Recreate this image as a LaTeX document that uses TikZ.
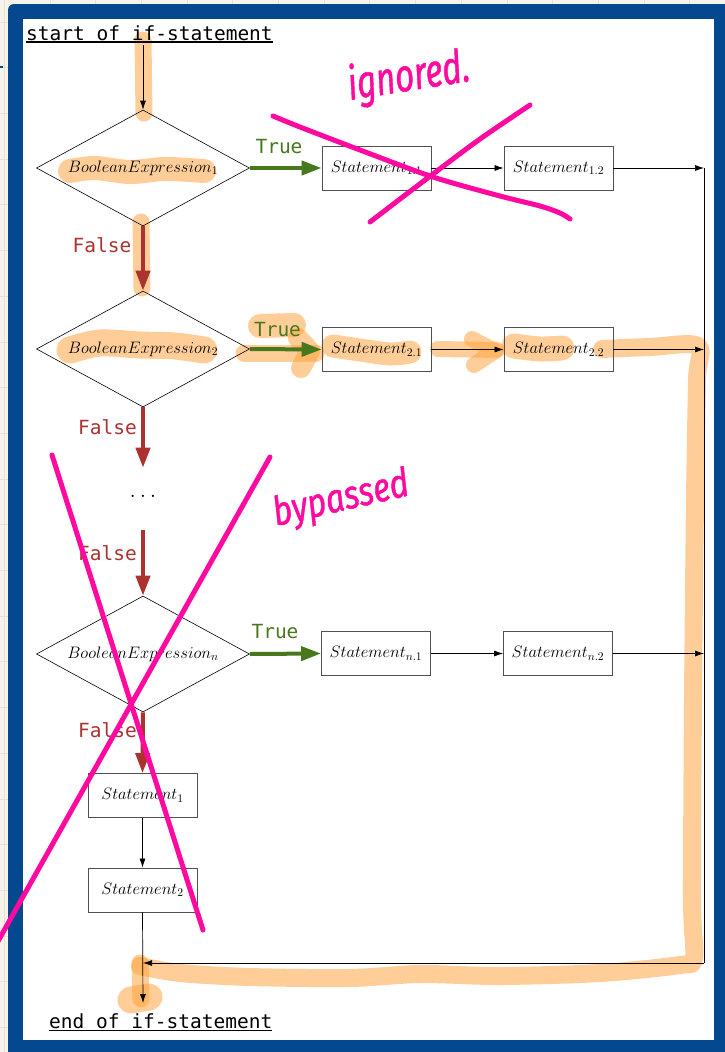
\RequirePackage{fix-cm}
\documentclass[tikz,border=0pt]{standalone}
\usepackage{fontspec}
\usetikzlibrary{shapes.geometric,arrows.meta}
\newfontfamily\monofam{DejaVu Sans Mono}
\newfontfamily\handfam{Fira Sans}[FakeBold=1.2]
\newcommand\stmtsize{\fontsize{16.6}{19}\selectfont}
\newcommand\codesize{\monofam\fontsize{19.5}{23}\selectfont}

\definecolor{framebl}{RGB}{4,72,143}
\definecolor{paper}{RGB}{246,243,232}
\definecolor{gridln}{RGB}{228,225,214}
\definecolor{truegreen}{RGB}{72,120,30}
\definecolor{falsered}{RGB}{172,50,48}
\definecolor{hilite}{RGB}{255,159,51}
\definecolor{inkpink}{RGB}{255,10,160}
\definecolor{boxgray}{RGB}{80,80,80}

\tikzset{
  decision/.style={diamond, draw=black, line width=0.6pt, aspect=1.836,
    minimum width=213pt, minimum height=116pt, inner sep=0pt, font=\stmtsize},
  stmtbox/.style={rectangle, draw=boxgray, line width=0.8pt, minimum width=109pt,
    minimum height=44pt, inner sep=0pt, font=\stmtsize},
  flow/.style={-{Latex[length=9pt,width=6pt]}, line width=0.7pt, black},
  yes/.style={-{Triangle[length=20pt,width=14pt]}, line width=4pt, truegreen},
  no/.style={-{Triangle[length=20pt,width=14pt]}, line width=4pt, falsered},
  codelabel/.style={font=\codesize, inner sep=0pt},
  hl/.style={draw=hilite, opacity=0.5, line width=#1, line cap=round, line join=round},
  ink/.style={draw=inkpink, line width=5pt, line cap=round, line join=round},
  hand/.style={text=inkpink, inner sep=0pt, font=\handfam\itshape\fontsize{#1}{#1}\selectfont}
}

\begin{document}
\begin{tikzpicture}[x=1pt,y=-1pt]
\useasboundingbox (0,0) rectangle (725,1052);
\clip (0,0) rectangle (725,1052);

% page background with its grid
\fill[paper] (0,0) rectangle (725,1052);
\foreach \g in {0,...,23}{
  \draw[gridln, line width=0.8pt] (4.2+45.7*\g,0) -- (4.2+45.7*\g,1052);
  \draw[gridln, line width=0.8pt] (0,22+45.7*\g) -- (725,22+45.7*\g);
}
\draw[framebl, line width=1.2pt] (0,67) -- (3,67);

% blue frame and white sheet
\fill[framebl, rounded corners=6pt] (8,4) rectangle (745,1062);
\fill[white] (23,19) rectangle (714,1040);

% highlighter marks along the taken path
\draw[hl=17pt] (143,40) -- (144,113);
\draw[hl=24pt] plot[smooth] coordinates {(70,171) (95,168) (130,172) (165,169) (204,171)};
\draw[hl=17pt] (141,222) -- (142,288);
\draw[hl=27pt] plot[smooth] coordinates {(70,350) (100,343) (140,345) (175,346) (204,350)};
\draw[hl=24pt] (260,326) -- (294,325);
\draw[hl=17pt] (244,353) -- (316,353);
\draw[hl=20pt] (298,338) -- (310,351) -- (301,368);
\draw[hl=23pt] plot[smooth] coordinates {(333,346) (360,350) (390,354) (410,352)};
\draw[hl=16pt] (438,349) -- (497,350);
\draw[hl=16pt] (472,339) -- (495,351) -- (474,365);
\draw[hl=25pt] plot[smooth] coordinates {(514,346) (540,349) (562,348)};
\draw[hl=18pt] plot[smooth] coordinates {(602,349) (650,347) (698,346) (697,380) (695,500)
  (693,700) (692,900) (694,958) (680,965) (600,973) (500,976) (420,974) (350,978)
  (250,977) (180,973) (140,966)};
\draw[hl=17pt] (140,963) -- (141,999);
\draw[hl=27pt] (131,1000) -- (149,997);

% flowchart nodes
\node[codelabel, anchor=base west] (start) at (26,40) {start of if-statement};
\node[decision] (d1) at (143,168) {$BooleanExpression_1$};
\node[stmtbox] (s11) at (376.5,168) {$Statement_{1.1}$};
\node[stmtbox] (s12) at (558.5,168) {$Statement_{1.2}$};
\node[decision] (d2) at (143,349) {$BooleanExpression_2$};
\node[stmtbox] (s21) at (376.5,349.5) {$Statement_{2.1}$};
\node[stmtbox] (s22) at (558.5,349.5) {$Statement_{2.2}$};
\node[inner sep=0pt, minimum height=40pt, font=\stmtsize, scale=1.4] (dots) at (143,496) {$\dots$};
\node[decision] (dn) at (143,654) {$BooleanExpression_n$};
\node[stmtbox] (sn1) at (376,653.5) {$Statement_{n.1}$};
\node[stmtbox] (sn2) at (558,653.5) {$Statement_{n.2}$};
\node[stmtbox] (s1) at (142.5,795.5) {$Statement_1$};
\node[stmtbox] (s2) at (142.5,890) {$Statement_2$};
\node[codelabel, anchor=base west] (end) at (49,1028) {end of if-statement};

\draw[line width=1.3pt] ([yshift=-2pt]start.base west) -- ([yshift=-2pt]start.base east);
\draw[line width=1.3pt] ([yshift=-2.5pt]end.base west) -- ([yshift=-2.5pt]end.base east);

% branch labels
\node[codelabel, text=truegreen] (t1) at (279,147) {True};
\node[codelabel, text=truegreen] (t2) at (277.5,330) {True};
\node[codelabel, text=truegreen] (t3) at (275,632) {True};
\node[codelabel, text=falsered] (f1) at (102,245) {False};
\node[codelabel, text=falsered] (f2) at (107.5,427) {False};
\node[codelabel, text=falsered] (f3) at (107.5,553) {False};
\node[codelabel, text=falsered] (f4) at (107.5,730) {False};

% junction points on the right-hand collector line
\coordinate (top) at (143,45);
\coordinate (r1) at (704,168);
\coordinate (r2) at (704,349.5);
\coordinate (rn) at (704,653.5);
\coordinate (rb) at (704,963);
\coordinate (join) at (143,963);
\coordinate (exit) at (143,1003);

% connectors
\draw[flow] (top) -- (d1.north);
\draw[yes] (d1.east) -- (s11.west);
\draw[yes] (d2.east) -- (s21.west);
\draw[yes] (dn.east) -- (sn1.west);
\draw[flow] (s11.east) -- (s12.west);
\draw[flow] (s21.east) -- (s22.west);
\draw[flow] (sn1.east) -- (sn2.west);
\draw[flow] (s12.east) -- (r1);
\draw[flow] (s22.east) -- (r2);
\draw[flow] (sn2.east) -- (rn);
\draw[no] (d1.south) -- (d2.north);
\draw[no] (d2.south) -- (dots.north);
\draw[no] ([yshift=-6pt]dots.south) -- (dn.north);
\draw[no] (dn.south) -- (s1.north);
\draw[flow] (s1.south) -- (s2.north);
\draw[flow] (s2.south) -- (exit);
\draw[line width=0.7pt] (r1) -- (rb);
\draw[flow] (rb) -- (join);

% pen annotations
\draw[ink] plot[smooth] coordinates {(273,116) (300,127) (360,150) (433,177) (500,196) (540,206) (560,213) (570,219)};
\draw[ink] plot[smooth] coordinates {(370,222) (400,199) (433,174) (480,139) (530,105)};
\node[hand=46, anchor=base west, rotate=9, xscale=0.72] (ignoredtxt) at (350,100) {ignored.};
\draw[ink] (52,455) -- (203,930);
\draw[ink] (270,457) -- (-3,943);
\node[hand=40, anchor=base west, rotate=13, xscale=0.82] (bypassedtxt) at (276,526) {bypassed};
\end{tikzpicture}
\end{document}
